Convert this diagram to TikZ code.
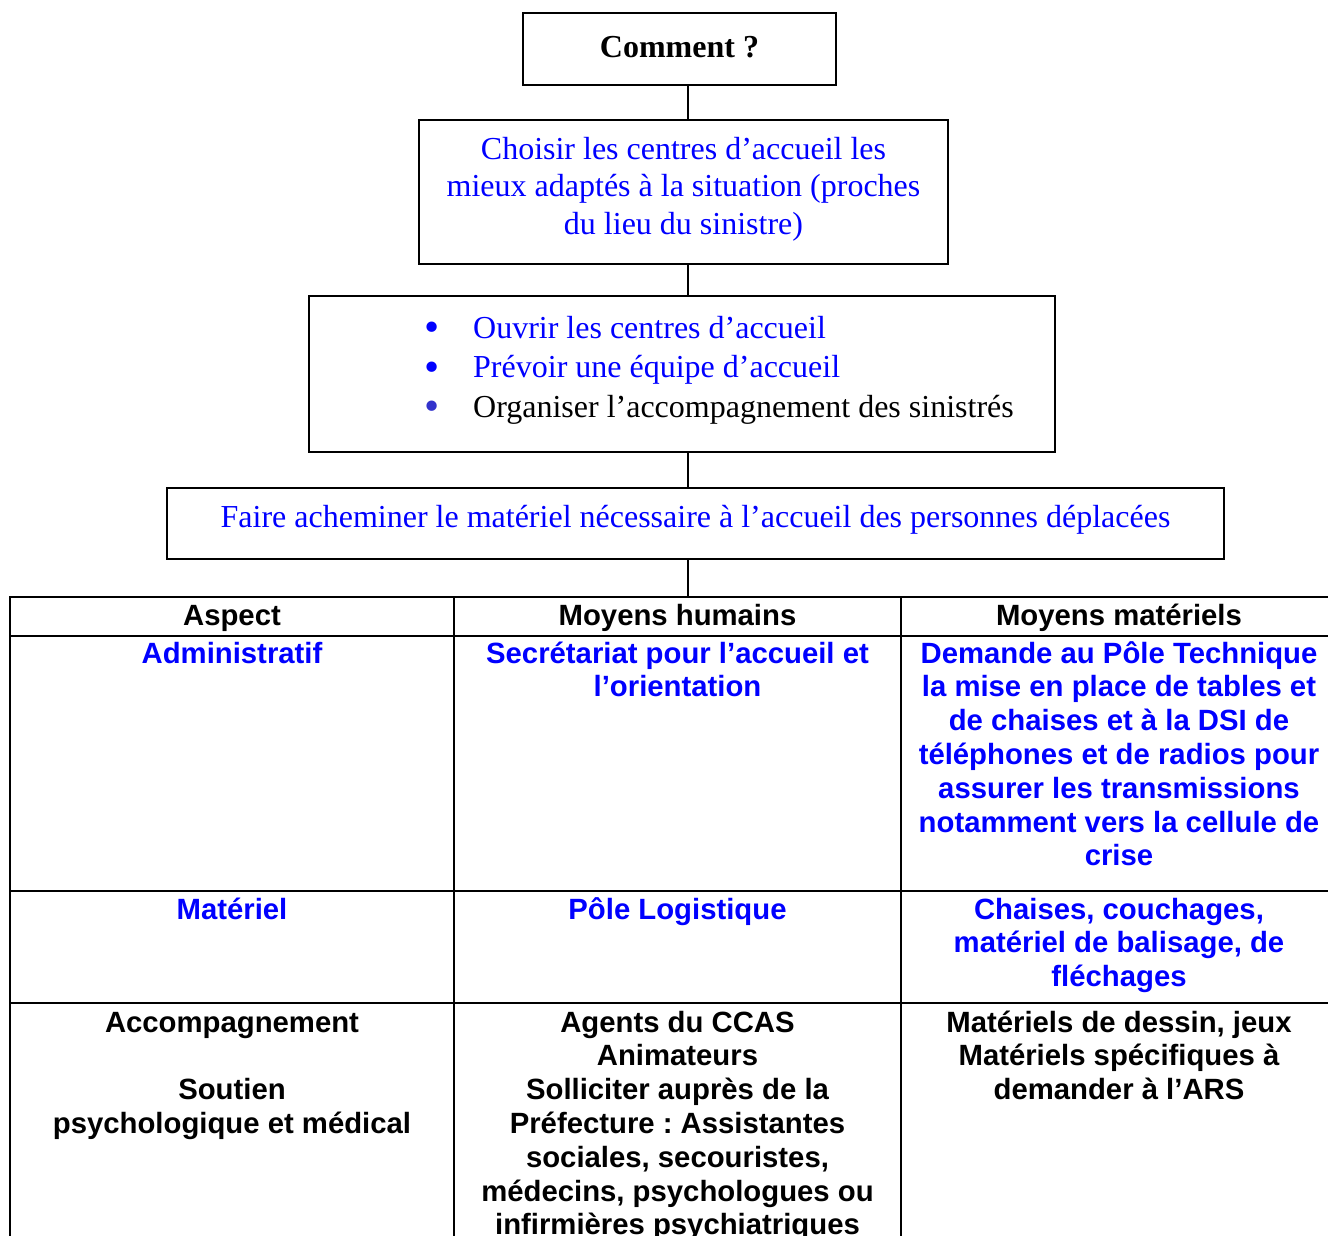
\documentclass[tikz,border=0pt]{standalone}
\usepackage{fontspec}
\usepackage{graphicx}
\setmainfont{Liberation Serif}
\setsansfont{Liberation Sans}
\frenchspacing
\definecolor{txtblue}{HTML}{0000FF}
\definecolor{bulletblue}{HTML}{3333CC}
\newcommand\serifsize{\fontsize{32}{37.5}\selectfont}
\newcommand\cellsize{\fontsize{29.3}{33.8}\selectfont}
% list bullet, a little larger than the font's own
\newcommand\bigbullet{\makebox[49pt][l]{\raisebox{-3.5pt}{\scalebox{1.35}{\textbullet}}}}
\begin{document}
\begin{tikzpicture}[x=1pt,y=-1pt,
  box/.style={draw=black,line width=1.8pt,inner sep=0pt,align=center,font=\serifsize},
  link/.style={draw=black,line width=1.6pt},
  grid/.style={draw=black,line width=2pt},
  % cell text is placed by the baseline of its last line (rows are 33.8pt apart)
  cell/.style={inner sep=0pt,align=center,anchor=base,font=\cellsize\sffamily\bfseries}]
\useasboundingbox (0,0) rectangle (1328,1235);
\clip (0,0) rectangle (1328,1235);
\fill[white] (0,0) rectangle (1328,1235);

% vertical spine on which all connectors sit
\coordinate (spine) at (688,0);

% flow of boxes
\node[box,minimum width=313pt,minimum height=72pt,text height=22pt,text depth=6pt] (cmt) at (679.5,49)
  {\bfseries Comment ?};
\node[box,minimum width=529pt,minimum height=144pt,text=txtblue,text depth=13pt] (choose) at (683.5,192)
  {Choisir les centres d’accueil les\\mieux adaptés à la situation (proches\\du lieu du sinistre)};
\node[box,minimum width=746pt,minimum height=156pt] (open) at (682,374) {};
\node[inner sep=0pt,anchor=base west,align=left,font=\fontsize{32}{39.5}\selectfont] (openlist) at (424,417)
  {\textcolor{txtblue}{\bigbullet Ouvrir les centres d’accueil}\\
   \textcolor{txtblue}{\bigbullet Prévoir une équipe d’accueil}\\
   \textcolor{bulletblue}{\bigbullet}Organiser l’accompagnement des sinistrés};
\node[box,minimum width=1057pt,minimum height=71pt,text height=22pt,text depth=15pt,text=txtblue] (bring) at (695.5,523.5)
  {Faire acheminer le matériel nécessaire à l’accueil des personnes déplacées};

% table frame
\coordinate (tabletop) at (688,597);
\draw[grid] (10,597) rectangle (1337,1260);
\draw[grid] (10,636) -- (1337,636);
\draw[grid] (10,891) -- (1337,891);
\draw[grid] (10,1003) -- (1337,1003);
\draw[grid] (454,597) -- (454,1260);
\draw[grid] (901,597) -- (901,1260);

% connectors
\draw[link] (cmt.south -| spine) -- (choose.north -| spine);
\draw[link] (choose.south -| spine) -- (open.north -| spine);
\draw[link] (open.south -| spine) -- (bring.north -| spine);
\draw[link] (bring.south -| spine) -- (tabletop);

% header row (baseline 625)
\node[cell] (hA) at (232,625) {Aspect};
\node[cell] (hB) at (677.5,625) {Moyens humains};
\node[cell] (hC) at (1119,625) {Moyens matériels};

% first row (first baseline 663)
\node[cell,text=txtblue] (aA) at (232,663) {Administratif};
\node[cell,text=txtblue] (aB) at (677.5,696.8) {Secrétariat pour l’accueil et\\l’orientation};
\node[cell,text=txtblue] (aC) at (1119,865.8)
  {Demande au Pôle Technique\\la mise en place de tables et\\de chaises et à la DSI de\\téléphones et de radios pour\\assurer les transmissions\\notamment vers la cellule de\\crise};

% second row (first baseline 919)
\node[cell,text=txtblue] (mA) at (232,919) {Matériel};
\node[cell,text=txtblue] (mB) at (677.5,919) {Pôle Logistique};
\node[cell,text=txtblue] (mC) at (1119,986.6) {Chaises, couchages,\\matériel de balisage, de\\fléchages};

% third row (first baseline 1032)
\node[cell] (sA) at (232,1133.4) {Accompagnement\\[33.8pt]Soutien\\psychologique et médical};
\node[cell] (sB) at (677.5,1234.8)
  {Agents du CCAS\\Animateurs\\Solliciter auprès de la\\Préfecture : Assistantes\\sociales, secouristes,\\médecins, psychologues ou\\infirmières psychiatriques};
\node[cell] (sC) at (1119,1099.6) {Matériels de dessin, jeux\\Matériels spécifiques à\\demander à l’ARS};
\end{tikzpicture}
\end{document}
